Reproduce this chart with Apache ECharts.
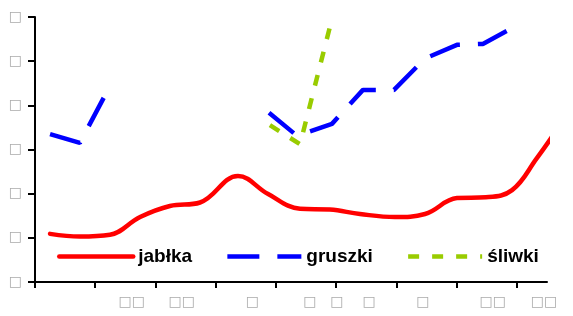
<!DOCTYPE html>
<html>
<head>
<meta charset="utf-8">
<script src="https://cdn.jsdelivr.net/npm/echarts@6/dist/echarts.min.js"></script>
<style>
html, body { margin: 0; padding: 0; background: #fff; }
#main { width: 573px; height: 316px; }
</style>
</head>
<body>
<div id="main"></div>
<script>
// dane
var names = ['jabłka', 'gruszki', 'śliwki'];
var jablka = [[0.50, 1.09], [1.49, 1.03], [2.49, 1.07], [3.49, 1.47], [4.48, 1.72], [5.48, 1.80],
  [6.74, 2.40], [7.74, 1.99], [8.80, 1.66], [9.79, 1.64], [10.79, 1.54], [11.95, 1.47],
  [12.95, 1.54], [14.01, 1.90], [14.97, 1.92], [15.84, 2.08], [16.67, 2.81], [17.16, 3.28]];
var gruszki = [[0.50, 3.35], [1.49, 3.15], [2.42, 4.35], [5, null], [7.77, 3.83], [8.70, 3.31],
  [9.86, 3.58], [10.89, 4.35], [11.92, 4.35], [12.95, 5.06], [14.01, 5.37], [14.87, 5.39], [15.90, 5.77]];
var sliwki = [[7.80, 3.55], [8.80, 3.12], [9.79, 5.77]];
var yLabels = ['□', '□', '□', '□', '□', '□', '□'];
var xLabelPos = [3.21, 4.87, 7.22, 9.13, 10.02, 11.09, 12.88, 15.2, 16.9];
var xLabels = ['□□', '□□', '□', '□', '□', '□', '□', '□□', '□□'];
var xTicks = [0, 2, 4, 6, 8, 10, 12, 14, 16];

var myChart = echarts.init(document.getElementById('main'));
myChart.setOption({
  animation: false,
  grid: { left: 35, right: 26, top: 17, bottom: 34 },
  legend: {
    left: 52,
    top: 242,
    itemWidth: 74,
    itemHeight: 14,
    itemGap: 33,
    itemStyle: { opacity: 0 },   // bez kółek w legendzie
    lineStyle: { width: 4.5 },
    textStyle: { fontFamily: 'Liberation Sans', fontWeight: 'bold', fontSize: 19, color: '#000' },
    data: names
  },
  xAxis: {
    type: 'value',
    min: 0,
    max: 17,
    interval: 2,
    splitLine: { show: false },
    axisLine: { lineStyle: { color: '#000', width: 2 } },
    axisTick: { length: 6, customValues: xTicks, lineStyle: { color: '#000', width: 2 } },
    axisLabel: {
      customValues: xLabelPos,
      margin: 13,
      color: '#aaa',
      fontSize: 14,
      fontFamily: 'DejaVu Sans',
      formatter: function (v) {
        var i = xLabelPos.indexOf(v);
        return i >= 0 ? xLabels[i] : '';
      }
    }
  },
  yAxis: {
    type: 'value',
    min: 0,
    max: 6,
    interval: 1,
    splitLine: { show: false },
    axisLine: { show: true, lineStyle: { color: '#000', width: 2 } },
    axisTick: { show: true, length: 7, lineStyle: { color: '#000', width: 2 } },
    axisLabel: {
      margin: 13,
      color: '#aaa',
      fontSize: 14,
      fontFamily: 'DejaVu Sans',
      formatter: function (v) { return yLabels[v]; }
    }
  },
  series: [{
    name: names[0],
    type: 'line',
    data: jablka,
    smooth: 0.4,
    symbol: 'none',
    clip: false,
    lineStyle: { color: '#ff0000', width: 4.5, cap: 'round' },
    itemStyle: { color: '#ff0000' }
  }, {
    name: names[1],
    type: 'line',
    data: gruszki,
    symbol: 'none',
    clip: false,
    lineStyle: { color: '#0000ff', width: 4.5, type: [32, 18] },
    itemStyle: { color: '#0000ff' }
  }, {
    name: names[2],
    type: 'line',
    data: sliwki,
    symbol: 'none',
    clip: false,
    lineStyle: { color: '#99cc00', width: 4.5, type: [11, 13] },
    itemStyle: { color: '#99cc00' }
  }]
});
</script>
</body>
</html>
